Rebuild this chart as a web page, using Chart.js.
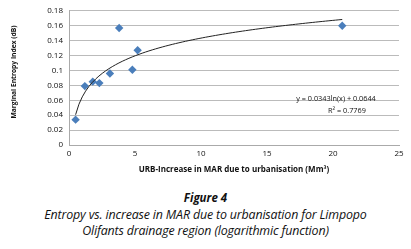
<!DOCTYPE html>
<html>
<head>
<meta charset="utf-8">
<script src="https://cdn.jsdelivr.net/npm/chart.js"></script>
<style>
  html, body { margin:0; padding:0; background:#fff; }
  body { width:411px; height:249px; overflow:hidden; }
  #wrap { position:relative; width:411px; height:180px; }
  #cap { text-align:center; font-family:"Open Sans", "Noto Sans", sans-serif; font-style:italic; color:#111; }
  #cap .t { font-weight:bold; font-size:11.5px; line-height:14px; margin-top:11px; }
  #cap .l { font-size:12.4px; line-height:16px; margin-top:2px; letter-spacing:-0.15px; }
</style>
</head>
<body>
<div id="wrap"><canvas id="c" width="411" height="180"></canvas></div>
<div id="cap">
  <div class="t">Figure 4</div>
  <div class="l">Entropy vs. increase in MAR due to urbanisation for Limpopo<br>Olifants drainage region (logarithmic function)</div>
</div>
<script>
const xValues = [0.5, 1.2, 1.8, 2.3, 3.1, 3.8, 4.8, 5.2, 20.7];
const yValues = [0.034, 0.079, 0.085, 0.083, 0.096, 0.157, 0.101, 0.127, 0.160];
const fitA = 0.0343, fitB = 0.0644;   // y = a ln(x) + b
const fitLabel = "y = 0.0343ln(x) + 0.0644";
const r2Label = "R\u00B2 = 0.7769";
const xTitle = "URB-Increase in MAR due to urbanisation (Mm\u00B3)";
const yTitle = "Marginal Entropy Index (dB)";

const xMin = Math.min(...xValues), xMax = Math.max(...xValues);
const trend = [];
for (let i = 0; i <= 80; i++) {
  const x = xMin + (xMax - xMin) * i / 80;
  trend.push({x: x, y: fitA * Math.log(x) + fitB});
}
const pts = xValues.map((x, i) => ({x: x, y: yValues[i]}));

const eqPlugin = {
  id: 'eq',
  afterDatasetsDraw(chart) {
    const ctx = chart.ctx;
    ctx.save();
    ctx.fillStyle = '#111';
    ctx.font = '7.3px "Open Sans", sans-serif';
    ctx.textAlign = 'center';
    ctx.textBaseline = 'middle';
    ctx.fillText(fitLabel, 336, 99);
    ctx.fillText(r2Label, 347, 111);
    // y-axis title (positioned as in the reference)
    ctx.font = 'bold 6.7px "Open Sans", sans-serif';
    ctx.translate(14, 72);
    ctx.rotate(-Math.PI / 2);
    ctx.fillText(yTitle, 0, 0);
    ctx.restore();
  }
};

new Chart(document.getElementById('c'), {
  type: 'scatter',
  data: {
    datasets: [
      { data: pts, pointStyle: 'rectRot', pointRadius: 4.2, pointHoverRadius: 4.2,
        backgroundColor: '#4a7ebb', borderColor: '#4a7ebb', borderWidth: 0, order: 1 },
      { type: 'line', data: trend, borderColor: '#222', borderWidth: 1, pointRadius: 0,
        fill: false, tension: 0, order: 0 }
    ]
  },
  plugins: [eqPlugin],
  options: {
    responsive: false,
    animation: false,
    events: [],
    layout: { padding: { left: 0, right: 12, top: 6, bottom: 0 } },
    plugins: { legend: { display: false }, tooltip: { enabled: false } },
    scales: {
      x: {
        type: 'linear', min: 0, max: 25,
        ticks: { stepSize: 5, color: '#111', font: { size: 8, family: '"Open Sans", sans-serif' }, padding: 4 },
        grid: { display: false, drawTicks: false },
        border: { color: '#aaa' },
        title: { display: true, text: xTitle, color: '#111', font: { size: 8, weight: 'bold', family: '"Open Sans", sans-serif' }, padding: { top: 2, bottom: 5 } },
        afterFit(s) { s.height = 35; }
      },
      y: {
        min: 0, max: 0.18,
        ticks: { stepSize: 0.02, color: '#111', font: { size: 8, family: '"Open Sans", sans-serif' }, padding: 6,
          callback: v => String(parseFloat(v.toFixed(2))) },
        grid: { color: '#bbb', drawTicks: false },
        border: { color: '#aaa' },
        title: { display: false },
        afterFit(s) { s.width = 69; }
      }
    }
  }
});
</script>
</body>
</html>
